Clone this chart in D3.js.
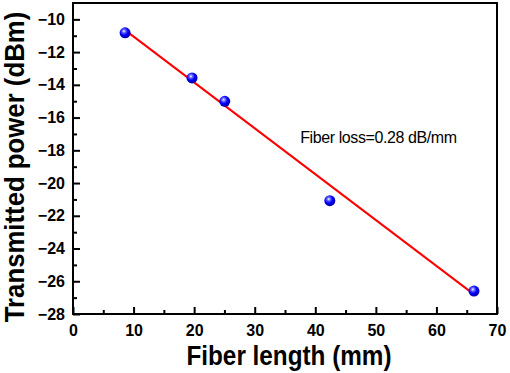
<!DOCTYPE html>
<html>
<head>
<meta charset="utf-8">
<script src="https://cdn.jsdelivr.net/npm/d3@7"></script>
<style>
  body { margin: 0; background: #fff; }
  text { font-family: "Liberation Sans", Arial, sans-serif; }
</style>
</head>
<body>
<div id="chart"></div>
<script>
// measured points
const fiberLength = [8.6, 19.65, 25.05, 42.4, 66.2];
const power = [-10.82, -13.58, -15.01, -21.08, -26.6];
// linear fit
const fitX = [8.6, 66.2];
const fitY = [-10.66, -26.8];
const xTicks = [0, 10, 20, 30, 40, 50, 60, 70];
const yTicks = [-10, -12, -14, -16, -18, -20, -22, -24, -26, -28];

const W = 510, H = 373;
const margin = {top: 3, right: 13, bottom: 59, left: 73};
const width = W - margin.left - margin.right;
const height = H - margin.top - margin.bottom;

const svg = d3.select("#chart").append("svg")
  .attr("width", W).attr("height", H);

const defs = svg.append("defs");
const grad = defs.append("radialGradient")
  .attr("id", "ball").attr("cx", "40%").attr("cy", "35%").attr("r", "60%");
grad.append("stop").attr("offset", "0%").attr("stop-color", "#ffffff");
grad.append("stop").attr("offset", "25%").attr("stop-color", "#6a6aff");
grad.append("stop").attr("offset", "60%").attr("stop-color", "#0000ff");
grad.append("stop").attr("offset", "100%").attr("stop-color", "#0000b0");

const g = svg.append("g").attr("transform", `translate(${margin.left},${margin.top})`);

const x = d3.scaleLinear().domain([0, 70]).range([0, width]);
const y = d3.scaleLinear().domain([-28, -9]).range([height, 0]);

// minor ticks
g.append("g")
  .attr("transform", `translate(0,${height})`)
  .call(d3.axisBottom(x).tickValues(d3.range(5, 70, 10)).tickSize(-4).tickFormat(""))
  .call(a => a.select(".domain").remove())
  .selectAll("line").attr("stroke-width", 2);
g.append("g")
  .call(d3.axisLeft(y).tickValues(d3.range(-27, -9, 2)).tickSize(-4).tickFormat(""))
  .call(a => a.select(".domain").remove())
  .selectAll("line").attr("stroke-width", 2);

// major ticks
const xAxis = g.append("g")
  .attr("transform", `translate(0,${height})`)
  .call(d3.axisBottom(x).tickValues(xTicks).tickSize(-7).tickPadding(11));
xAxis.select(".domain").remove();
xAxis.selectAll("line").attr("stroke-width", 2);
xAxis.selectAll("text")
  .attr("font-family", "Liberation Sans, Arial, sans-serif")
  .attr("font-size", 16).attr("font-weight", "bold").attr("fill", "#000");

const yAxis = g.append("g")
  .call(d3.axisLeft(y).tickValues(yTicks).tickSize(-7).tickPadding(8));
yAxis.select(".domain").remove();
yAxis.selectAll("line").attr("stroke-width", 2);
yAxis.selectAll("text")
  .attr("font-family", "Liberation Sans, Arial, sans-serif")
  .attr("font-size", 16).attr("font-weight", "bold").attr("fill", "#000");

// frame
g.append("rect")
  .attr("x", 0).attr("y", 0).attr("width", width).attr("height", height)
  .attr("fill", "none").attr("stroke", "#000").attr("stroke-width", 2);

// fit line
g.append("line")
  .attr("x1", x(fitX[0])).attr("y1", y(fitY[0]))
  .attr("x2", x(fitX[1])).attr("y2", y(fitY[1]))
  .attr("stroke", "#ff0000").attr("stroke-width", 2);

// points
g.selectAll("circle.pt")
  .data(fiberLength.map((d, i) => [d, power[i]]))
  .join("circle")
  .attr("class", "pt")
  .attr("cx", d => x(d[0])).attr("cy", d => y(d[1]))
  .attr("r", 5.5)
  .attr("fill", "url(#ball)");

// annotation
g.append("text")
  .attr("x", x(37.5)).attr("y", 140)
  .attr("font-size", 16).attr("letter-spacing", -0.4)
  .text("Fiber loss=0.28 dB/mm");

// axis titles (slightly condensed like the original)
svg.append("text")
  .attr("transform", `translate(289,365) scale(0.9,1)`)
  .attr("text-anchor", "middle")
  .attr("font-size", 27).attr("font-weight", "bold")
  .text("Fiber length (mm)");

svg.append("text")
  .attr("transform", `translate(24,167) rotate(-90) scale(0.92,1)`)
  .attr("text-anchor", "middle")
  .attr("font-size", 28).attr("font-weight", "bold")
  .text("Transmitted power (dBm)");
</script>
</body>
</html>
